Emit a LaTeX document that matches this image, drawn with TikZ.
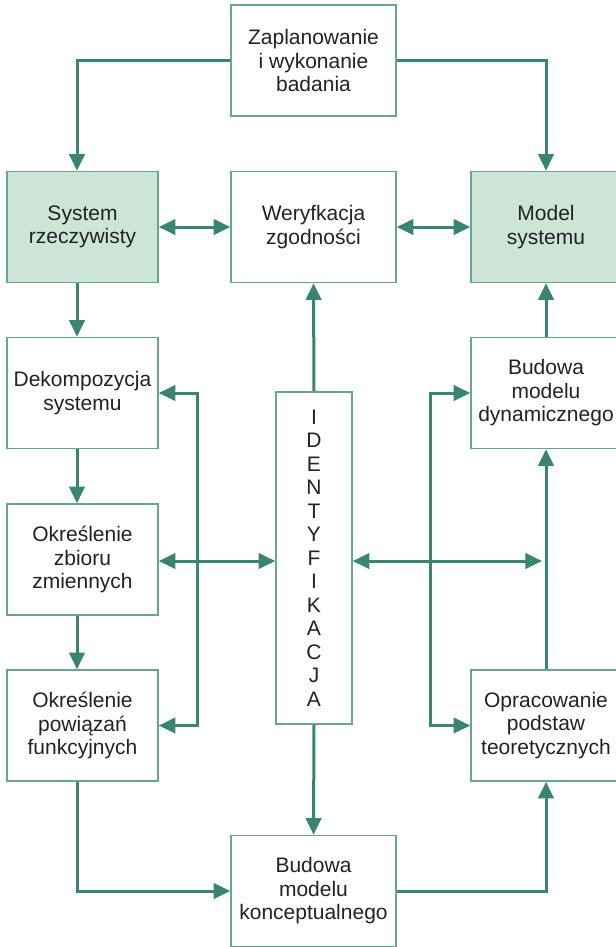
\documentclass[tikz,border=0pt]{standalone}
\usepackage{fontspec}
\setmainfont{Liberation Sans}
\usetikzlibrary{arrows.meta}

\definecolor{linia}{RGB}{58,132,114}
\definecolor{ramka}{RGB}{104,165,148}
\definecolor{ziel}{RGB}{204,229,214}
\definecolor{tekst}{RGB}{34,34,34}

\tikzset{
  box/.style={draw=ramka, line width=1.1pt, inner sep=0pt, align=center,
    text=tekst, font=\fontsize{15.75pt}{17.6pt}\selectfont,
    minimum height=83.25pt},
  lbox/.style={box, minimum width=113.25pt},
  cbox/.style={box, minimum width=123.75pt},
  rbox/.style={box, minimum width=112.5pt},
  zbox/.style={fill=ziel},
  arr/.style={draw=linia, line width=2.25pt, -{Triangle[length=12.5pt,width=11.5pt]}},
  dbl/.style={draw=linia, line width=2.25pt,
    {Triangle[length=12.5pt,width=11.5pt]}-{Triangle[length=12.5pt,width=11.5pt]}}
}

\begin{document}
\begin{tikzpicture}[x=0.75pt,y=-0.75pt]
\useasboundingbox (0,0) rectangle (615,947);

% bloki
\node[cbox] (plan) at (313.5,60.5) {Zaplanowanie\\i wykonanie\\badania};
\node[lbox,zbox] (sys) at (82.5,227) {System\\rzeczywisty};
\node[cbox] (wer) at (313.5,227) {Weryfkacja\\zgodności};
\node[rbox,zbox] (mod) at (546,227) {Model\\systemu};

\node[lbox] (dek) at (82.5,393) {Dekompozycja\\systemu};
\node[lbox] (zb) at (82.5,559.5) {Określenie\\zbioru\\zmiennych};
\node[lbox] (pow) at (82.5,725.5) {Określenie\\powiązań\\funkcyjnych};

\node[box, minimum width=57pt, minimum height=249pt] (ident) at (314,558)
  {I\\D\\E\\N\\T\\Y\\F\\I\\K\\A\\C\\J\\A};

\node[rbox] (dyn) at (546,393) {Budowa\\modelu\\dynamicznego};
\node[rbox] (opr) at (546,725.5) {Opracowanie\\podstaw\\teoretycznych};
\node[cbox] (kon) at (313.5,891) {Budowa\\modelu\\konceptualnego};

% punkty pomocnicze
\coordinate (lx) at (77,0);
\coordinate (rx) at (546,0);
\coordinate (lb) at (197,0);
\coordinate (rb) at (430,0);
\coordinate (rm) at (542,561);

% polaczenia
\draw[arr] (plan.west) -| (lx |- sys.north);
\draw[arr] (plan.east) -| (rx |- mod.north);
\draw[dbl] (sys.east) -- (wer.west);
\draw[dbl] (wer.east) -- (mod.west);

\draw[arr] (lx |- sys.south) -- (lx |- dek.north);
\draw[arr] (lx |- dek.south) -- (lx |- zb.north);
\draw[arr] (lx |- zb.south) -- (lx |- pow.north);
\draw[arr] (lx |- pow.south) |- (kon.west);

\draw[arr] (ident.north) -- (wer.south);
\draw[arr] (ident.south) -- (kon.north);

\draw[dbl] (dek.east) -| (lb |- pow.east) -- (pow.east);
\draw[dbl] (zb.east |- rm) -- (ident.west |- rm);

\draw[dbl] (dyn.west) -| (rb |- opr.west) -- (opr.west);
\draw[dbl] (ident.east |- rm) -- (rm);

\draw[arr] (kon.east) -| (rx |- opr.south);
\draw[arr] (rx |- opr.north) -- (rx |- dyn.south);
\draw[arr] (rx |- dyn.north) -- (rx |- mod.south);

\end{tikzpicture}
\end{document}
